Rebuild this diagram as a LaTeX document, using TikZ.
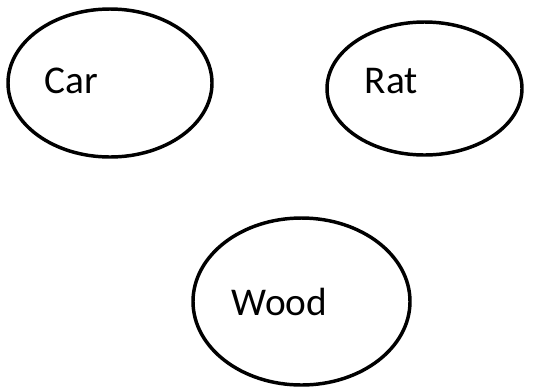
\documentclass[tikz,border=0pt]{standalone}
\usepackage{fontspec}
\setmainfont{Carlito}
\tikzset{every picture/.style={line width=2.6pt}}
\tikzset{word/.style={inner sep=0pt, font=\fontsize{29.5}{35}\selectfont}}

\begin{document}
\begin{tikzpicture}[x=0.75pt,y=0.75pt,yscale=-1,xscale=1]
\useasboundingbox (0,0) rectangle (534,390);

%Shape: Ellipse [id:car]
\draw  (110,83) ellipse [x radius=102, y radius=74] ;
%Shape: Ellipse [id:rat]
\draw  (424.5,88.5) ellipse [x radius=97.5, y radius=66.5] ;
%Shape: Ellipse [id:wood]
\draw  (301.5,301.5) ellipse [x radius=108.5, y radius=83.5] ;

% Text Node
\draw (43,93) node [anchor=base west][word] (car) {Car};
% Text Node
\draw (363,93) node [anchor=base west][word] (rat) {Rat};
% Text Node
\draw (230,315) node [anchor=base west][word] (wood) {Wood};

\end{tikzpicture}
\end{document}
